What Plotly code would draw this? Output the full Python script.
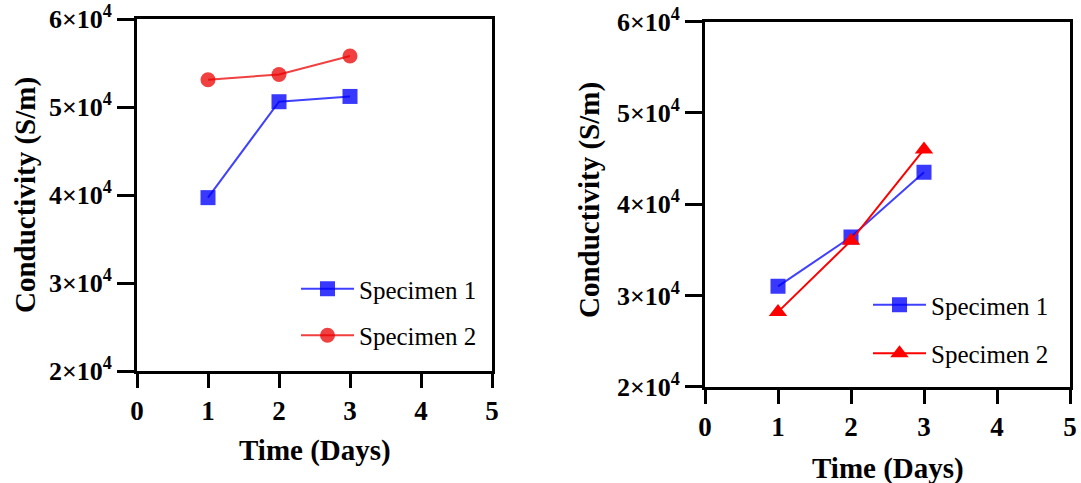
import plotly.graph_objects as go

days = [1, 2, 3]
left_spec1 = [39700, 50600, 51200]
left_spec2 = [53100, 53700, 55800]
right_spec1 = [31000, 36400, 43500]
right_spec2 = [28200, 36000, 46000]
series_names = ["Specimen 1", "Specimen 2"]
y_tickvals = [20000, 30000, 40000, 50000, 60000]
y_ticktext = ["2×10<sup>4</sup>", "3×10<sup>4</sup>", "4×10<sup>4</sup>", "5×10<sup>4</sup>", "6×10<sup>4</sup>"]
x_tickvals = [0, 1, 2, 3, 4, 5]
x_title = "Time (Days)"
y_title = "Conductivity (S/m)"

W, H = 1081, 483
SERIF = "Liberation Serif"

BLUE_M = "rgba(0,0,255,0.78)"
BLUE_L = "rgba(0,0,255,0.75)"
RED_M = "rgba(235,0,0,0.75)"
RED_L = "rgba(235,0,0,0.75)"
RED2 = "#FF0000"

fig = go.Figure()

fig.add_trace(go.Scatter(x=days, y=left_spec1, name=series_names[0], mode="lines+markers",
                         xaxis="x", yaxis="y", legend="legend", legendgroup="a",
                         line=dict(color=BLUE_L, width=2),
                         marker=dict(symbol="square", size=15, color=BLUE_M)))
fig.add_trace(go.Scatter(x=days, y=left_spec2, name=series_names[1], mode="lines+markers",
                         xaxis="x", yaxis="y", legend="legend", legendgroup="b",
                         line=dict(color=RED_L, width=2),
                         marker=dict(symbol="circle", size=15, color=RED_M)))
fig.add_trace(go.Scatter(x=days, y=right_spec1, name=series_names[0], mode="lines+markers",
                         xaxis="x2", yaxis="y2", legend="legend2", legendgroup="c",
                         line=dict(color=BLUE_L, width=2),
                         marker=dict(symbol="square", size=15, color=BLUE_M)))
fig.add_trace(go.Scatter(x=days, y=right_spec2, name=series_names[1], mode="lines+markers",
                         xaxis="x2", yaxis="y2", legend="legend2", legendgroup="d",
                         line=dict(color=RED2, width=2),
                         marker=dict(symbol="triangle-up", size=16, color=RED2)))

def px_x(p):
    return p / W

def px_y(p):
    return 1 - p / H

axis_common = dict(showline=True, linewidth=3, linecolor="black", mirror=True,
                   ticks="outside", tickwidth=3, tickcolor="black",
                   showgrid=False, zeroline=False, automargin=False)

xfont = dict(family=SERIF, size=27, color="black", weight="bold")
yfont = dict(family=SERIF, size=26, color="black", weight="bold")

fig.update_layout(
    width=W, height=H,
    margin=dict(l=0, r=0, t=0, b=0, autoexpand=False),
    paper_bgcolor="white", plot_bgcolor="white",
    xaxis=dict(domain=[px_x(137), px_x(492)], range=[0, 5], tickvals=x_tickvals,
               ticklen=14, tickfont=xfont, anchor="y", **axis_common),
    yaxis=dict(domain=[px_y(371), px_y(19)], range=[20000, 60000], tickvals=y_tickvals,
               ticktext=y_ticktext, ticklen=17, tickfont=yfont, anchor="x", **axis_common),
    xaxis2=dict(domain=[px_x(705), px_x(1070)], range=[0, 5], tickvals=x_tickvals,
                ticklen=14, tickfont=xfont, anchor="y2", **axis_common),
    yaxis2=dict(domain=[px_y(386.7), px_y(21.7)], range=[20000, 60000], tickvals=y_tickvals,
                ticktext=y_ticktext, ticklen=17, tickfont=yfont, anchor="x2", **axis_common),
    legend=dict(x=px_x(296), y=px_y(266), xanchor="left", yanchor="top",
                font=dict(family=SERIF, size=25, color="black"),
                bgcolor="rgba(0,0,0,0)", tracegroupgap=11, itemwidth=53),
    legend2=dict(x=px_x(868), y=px_y(282), xanchor="left", yanchor="top",
                 font=dict(family=SERIF, size=25, color="black"),
                 bgcolor="rgba(0,0,0,0)", tracegroupgap=13, itemwidth=53),
    showlegend=True,
)

tfont = dict(family=SERIF, size=29, color="black", weight="bold")
fig.add_annotation(text=y_title, x=px_x(25), y=px_y(195), xref="paper", yref="paper",
                   textangle=-90, showarrow=False, font=tfont, xanchor="center", yanchor="middle")
fig.add_annotation(text=x_title, x=px_x(315), y=px_y(450), xref="paper", yref="paper",
                   showarrow=False, font=tfont, xanchor="center", yanchor="middle")
fig.add_annotation(text=y_title, x=px_x(590), y=px_y(200), xref="paper", yref="paper",
                   textangle=-90, showarrow=False, font=tfont, xanchor="center", yanchor="middle")
fig.add_annotation(text=x_title, x=px_x(888), y=px_y(468), xref="paper", yref="paper",
                   showarrow=False, font=tfont, xanchor="center", yanchor="middle")

fig.write_html("out.html")
